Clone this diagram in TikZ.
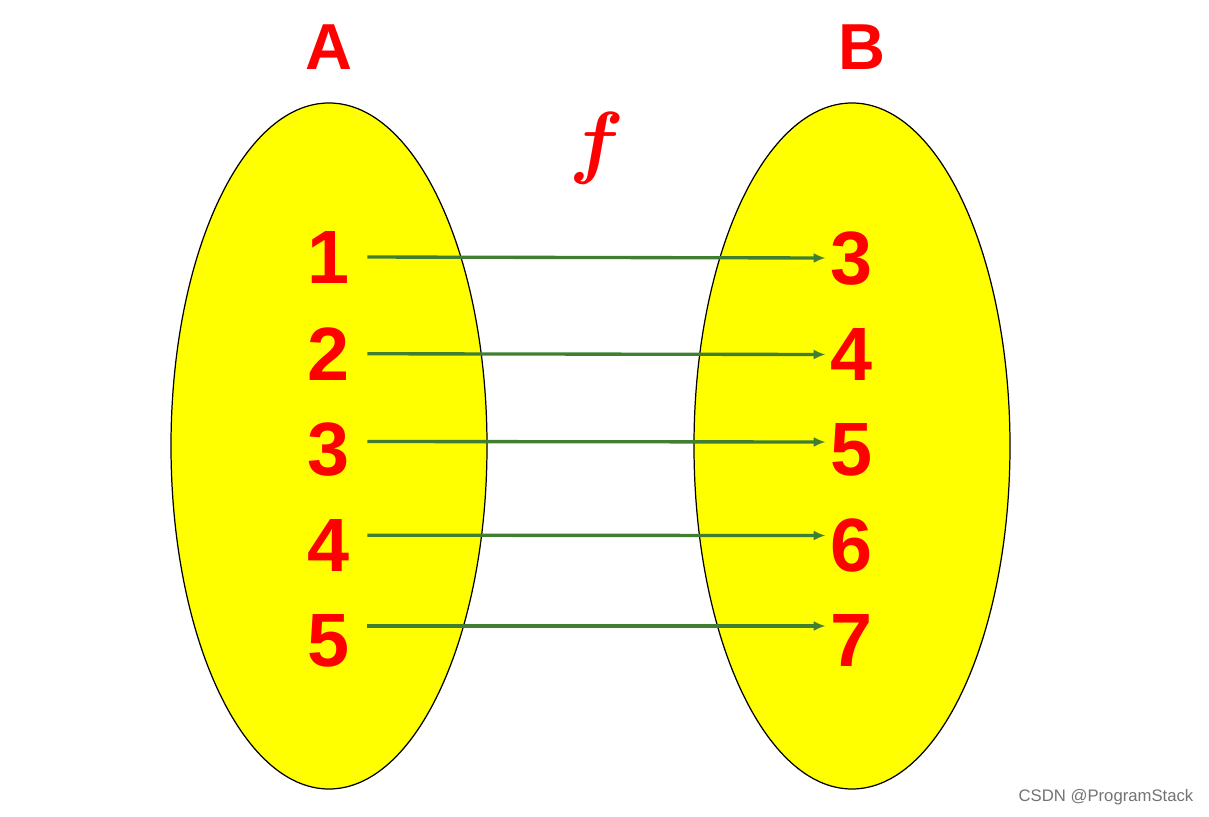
\documentclass[tikz,border=0pt]{standalone}
\usepackage{fontspec}
\setmainfont{Liberation Sans}
\usetikzlibrary{arrows.meta,calc}
\definecolor{SetYellow}{HTML}{FFFF00}
\definecolor{MapRed}{HTML}{FF0000}
\definecolor{MapGreen}{HTML}{3F7F2F}

\begin{document}
\begin{tikzpicture}[
  x=0.2mm, y=-0.2mm,
  setfill/.style={fill=SetYellow, draw=black, line width=0.7pt},
  setname/.style={text=MapRed, font=\fontsize{37}{40}\selectfont\bfseries, inner sep=0pt},
  elem/.style={text=MapRed, font=\fontsize{43}{46}\selectfont\bfseries, inner sep=1mm},
  maparrow/.style={-{Latex[length=2.4mm,width=2mm]}, line width=1.9pt, MapGreen, shorten <=2.4mm}
]
\useasboundingbox (0,0) rectangle (1209,817);
% the two sets
\draw[setfill] (329,446) ellipse [x radius=158, y radius=343];
\draw[setfill] (852,446) ellipse [x radius=158, y radius=343];
\node[setname] (nameA) at (329,47) {A};
\node[setname] (nameB) at (862,47) {B};
\node[text=MapRed, scale=4.6, inner sep=0pt, font=\boldmath] (f) at (597,148) {$f$};
% elements and the map
\foreach \i/\l/\r/\d in {1/1/3/-1, 2/2/4/0, 3/3/5/-8, 4/4/6/-10, 5/5/7/-15} {
  \node[elem] (a\i) at (329,{258+95.75*(\i-1)}) {\l};
  \node[elem] (b\i) at (852,{259+95.5*(\i-1)}) {\r};
  \draw[maparrow] ($(a\i.east)+(0,\d)$) -- ($(b\i.west)+(0,\d)$);
}
\node[text=black!55, font=\fontsize{9.5}{11}\selectfont] (mark) at (1106,797) {CSDN @ProgramStack};
\end{tikzpicture}
\end{document}
